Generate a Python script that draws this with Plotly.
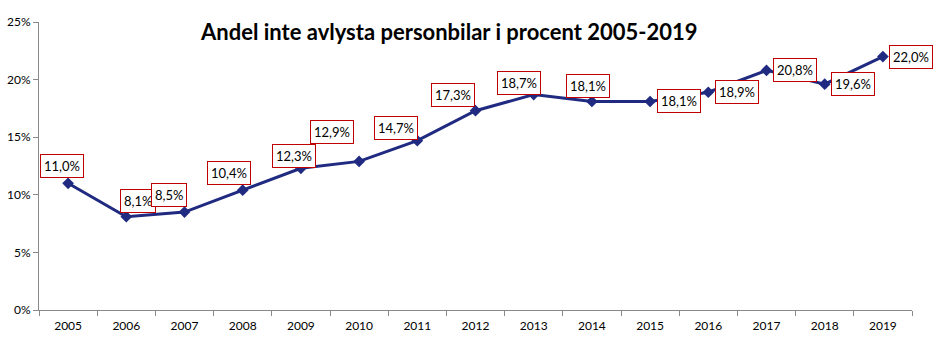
import plotly.graph_objects as go

years = [str(y) for y in range(2005, 2020)]
values = [11.0, 8.1, 8.5, 10.4, 12.3, 12.9, 14.7, 17.3, 18.7, 18.1, 18.1, 18.9, 20.8, 19.6, 22.0]
y_ticks = [0, 5, 10, 15, 20, 25]
y_tick_text = [f"{v}%" for v in y_ticks]

# pixel offsets of each value label relative to its point
label_dx = [-6, 12, -16, -14, -7, -27, -21, -23, -15, -4, 29, 29, 28, 28, 28]
label_dy = [17, 16, 17, 17, 12, 29, 13, 16, 12, 15, 0, 0, 0, 0, 0]

line_color = "#1F2A80"
font_family = "Lato, 'Open Sans', sans-serif"

fig = go.Figure()
fig.add_trace(go.Scatter(
    x=years, y=values, mode="lines+markers",
    line=dict(color=line_color, width=3),
    marker=dict(symbol="diamond", size=9, color=line_color),
    hoverinfo="skip", showlegend=False,
))

# value labels: category axes take the category index as the annotation x
for i, (v, dx, dy) in enumerate(zip(values, label_dx, label_dy)):
    fig.add_annotation(
        x=i, y=v, xref="x", yref="y",
        text=f"{v:.1f}%".replace(".", ","),
        showarrow=False, xshift=dx, yshift=dy,
        font=dict(family=font_family, size=13, color="#000000"),
        bgcolor="#FFFFFF", bordercolor="#C00000", borderwidth=1, borderpad=3,
    )

fig.add_annotation(
    x=0.47, xref="paper", y=24.2, yref="y",
    text="<b>Andel inte avlysta personbilar i procent 2005-2019</b>",
    showarrow=False, font=dict(family=font_family, size=22, color="#000000"),
)

fig.update_layout(
    width=941, height=338,
    margin=dict(l=39, r=29, t=22, b=28),
    paper_bgcolor="#FFFFFF", plot_bgcolor="#FFFFFF",
    font=dict(family=font_family, size=12, color="#000000"),
    xaxis=dict(
        type="category", range=[-0.5, 14.5], tickson="boundaries",
        ticks="outside", ticklen=5, tickcolor="#898989",
        ticklabelstandoff=5, automargin=False,
        showline=True, linecolor="#898989", linewidth=1,
        showgrid=False, zeroline=False, fixedrange=True,
        tickfont=dict(size=12),
    ),
    yaxis=dict(
        range=[0, 25], tickvals=y_ticks, ticktext=y_tick_text,
        ticks="outside", ticklen=5, tickcolor="#898989",
        automargin=False,
        showline=True, linecolor="#898989", linewidth=1,
        showgrid=False, zeroline=False, fixedrange=True,
        tickfont=dict(size=12),
    ),
)

fig.write_html("out.html")
